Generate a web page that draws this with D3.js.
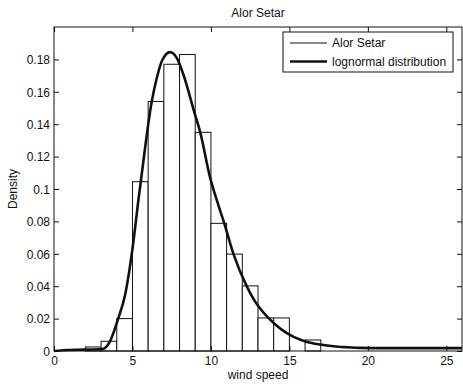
<!DOCTYPE html>
<html>
<head>
<meta charset="utf-8">
<script src="https://cdn.jsdelivr.net/npm/d3@7"></script>
<style>
  html, body { margin: 0; padding: 0; background: #fff; }
  svg { display: block; }
  text { font-family: "Liberation Sans", Arial, sans-serif; fill: #111; }
</style>
</head>
<body>
<svg id="chart" width="463" height="384"></svg>
<script>
// ---- data ----
const title = "Alor Setar";
const xLabel = "wind speed";
const yLabel = "Density";
const binStarts = [0, 1, 2, 3, 4, 5, 6, 7, 8, 9, 10, 11, 12, 13, 14, 15, 16];
const binDensity = [0, 0, 0.0025, 0.006, 0.02, 0.1045, 0.154, 0.177, 0.183, 0.135, 0.0788, 0.0598, 0.0402, 0.0204, 0.0204, 0, 0.0068];
const fitX = [0, 0.8, 1.5, 2.5, 3.08, 3.57, 4.07, 4.54, 5.0, 5.42, 5.53, 6.23, 6.55, 6.91, 7.4, 7.83, 8.25, 8.93, 9.32, 9.96, 10.27, 10.85, 11.44, 12.3, 12.76, 13.6, 14.42, 15.27, 16.13, 16.97, 17.82, 18.68, 19.53, 20.38, 22, 24, 26];
const fitY = [0, 0.0006, 0.0008, 0.0009, 0.0012, 0.006, 0.0194, 0.035, 0.063, 0.0963, 0.1045, 0.154, 0.1685, 0.1798, 0.1845, 0.1808, 0.1705, 0.1478, 0.135, 0.1066, 0.0963, 0.0788, 0.0598, 0.0396, 0.0314, 0.021, 0.0138, 0.0087, 0.0056, 0.004, 0.0029, 0.0023, 0.0019, 0.0018, 0.0018, 0.0018, 0.0018];
const xTicks = [0, 5, 10, 15, 20, 25];
const yTicks = [0, 0.02, 0.04, 0.06, 0.08, 0.1, 0.12, 0.14, 0.16, 0.18];
const yTickLabels = ["0", "0.02", "0.04", "0.06", "0.08", "0.1", "0.12", "0.14", "0.16", "0.18"];
const legendLabels = ["Alor Setar", "lognormal distribution"];

// ---- layout ----
const L = 54, R = 462, T = 27, B = 351;
const svg = d3.select("#chart");
const x = d3.scaleLinear().domain([0, 26]).range([L, R]);
const y = d3.scaleLinear().domain([0, 0.2]).range([B, T]);

// bars
svg.append("g").selectAll("rect")
  .data(binStarts.map((s, i) => ({ s, v: binDensity[i] })).filter(d => d.v > 0))
  .join("rect")
  .attr("x", d => x(d.s))
  .attr("width", d => x(d.s + 1) - x(d.s))
  .attr("y", d => y(d.v))
  .attr("height", d => y(0) - y(d.v))
  .attr("fill", "#fff")
  .attr("stroke", "#111")
  .attr("stroke-width", 1);

// fitted curve
const line = d3.line().x(d => x(d[0])).y(d => y(d[1])).curve(d3.curveMonotoneX);
svg.append("path")
  .datum(fitX.map((v, i) => [v, fitY[i]]))
  .attr("d", line)
  .attr("fill", "none")
  .attr("stroke", "#111")
  .attr("stroke-width", 2.6)
  .attr("stroke-linejoin", "round");

// axes (MATLAB-style box with inward ticks)
const tick = 5;
const gx = svg.append("g").attr("transform", `translate(0,${B})`)
  .call(d3.axisBottom(x).tickValues(xTicks).tickSizeInner(-tick).tickSizeOuter(0).tickPadding(5));
const gxt = svg.append("g").attr("transform", `translate(0,${T})`)
  .call(d3.axisTop(x).tickValues(xTicks).tickSizeInner(-tick).tickSizeOuter(0).tickFormat(""));
const gy = svg.append("g").attr("transform", `translate(${L},0)`)
  .call(d3.axisLeft(y).tickValues(yTicks).tickSizeInner(-tick).tickSizeOuter(0).tickPadding(4)
    .tickFormat((d, i) => yTickLabels[i]));
const gyr = svg.append("g").attr("transform", `translate(${R},0)`)
  .call(d3.axisRight(y).tickValues(yTicks).tickSizeInner(-tick).tickSizeOuter(0).tickFormat(""));
[gx, gxt, gy, gyr].forEach(g => {
  g.select(".domain").remove();
  g.selectAll("line").attr("stroke", "#111");
  g.selectAll("text").attr("font-size", 12).attr("fill", "#111")
    .attr("font-family", "'Liberation Sans', Arial, sans-serif");
});
gy.selectAll("text").attr("dy", "0.35em");
svg.append("rect").attr("x", L).attr("y", T).attr("width", R - L).attr("height", B - T)
  .attr("fill", "none").attr("stroke", "#111").attr("stroke-width", 1);

// labels
svg.append("text").attr("x", (L + R) / 2).attr("y", 16.5).attr("text-anchor", "middle")
  .attr("font-size", 12).text(title);
svg.append("text").attr("x", (L + R) / 2).attr("y", 379).attr("text-anchor", "middle")
  .attr("font-size", 12).text(xLabel);
svg.append("text").attr("transform", `translate(17,${(T + B) / 2}) rotate(-90)`)
  .attr("text-anchor", "middle").attr("font-size", 12).text(yLabel);

// legend
const lg = svg.append("g");
lg.append("rect").attr("x", 283).attr("y", 32).attr("width", 170).attr("height", 40)
  .attr("fill", "#fff").attr("stroke", "#111").attr("stroke-width", 1);
const widths = [1, 2.6];
legendLabels.forEach((t, i) => {
  const yy = 43 + i * 18.5;
  lg.append("line").attr("x1", 290).attr("x2", 327).attr("y1", yy).attr("y2", yy)
    .attr("stroke", "#111").attr("stroke-width", widths[i]);
  lg.append("text").attr("x", 332).attr("y", yy).attr("dy", "0.35em")
    .attr("font-size", 12).text(t);
});
</script>
</body>
</html>
